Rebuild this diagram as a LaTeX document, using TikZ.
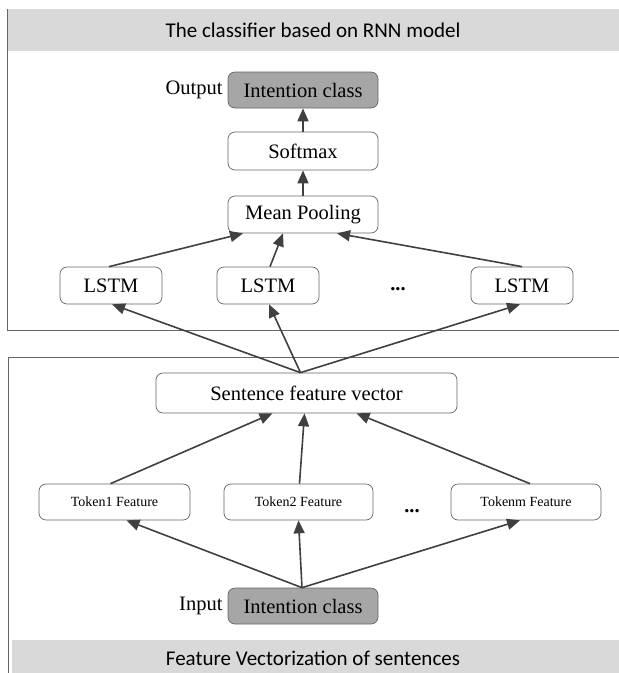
\documentclass[tikz,border=0pt]{standalone}
\usepackage{fontspec}
\setmainfont{Liberation Serif}
\newfontfamily\hdrfont{Carlito}
\usetikzlibrary{arrows.meta}
\definecolor{hdrgray}{HTML}{D9D9D9}
\definecolor{boxgray}{HTML}{A6A6A6}
\definecolor{linegray}{HTML}{404040}
\begin{document}
\begin{tikzpicture}[x=1pt,y=-1pt,
  blk/.style={draw=linegray!80,line width=0.7pt,rounded corners=7pt,fill=white,inner sep=0pt,font=\fontsize{20.5}{22}\selectfont},
  dark/.style={blk,fill=boxgray},
  tok/.style={blk,font=\fontsize{14}{16}\selectfont},
  lbl/.style={font=\fontsize{20.5}{22}\selectfont},
  dots/.style={font=\fontsize{20.5}{22}\selectfont\bfseries},
  arr/.style={draw=linegray,line width=1.6pt,-{Triangle[length=13pt,width=11pt]}},
  frame/.style={draw=black!60,line width=0.6pt},
  hdrtxt/.style={font=\hdrfont\fontsize{21}{23}\selectfont}]
\useasboundingbox (0,0) rectangle (619,673);
% top panel
\fill[hdrgray] (7,9) rectangle (619,51);
\node[hdrtxt] (h1) at (313,30) {The classifier based on RNN model};
\draw[frame] (7,9) -- (7,330) -- (619,330);
% bottom panel
\draw[frame] (619,357) -- (8,357) -- (8,673);
\fill[hdrgray] (12,640) rectangle (619,673);
\node[hdrtxt] (h2) at (313,658) {Feature Vectorization of sentences};
% nodes
\node[dark,minimum width=150pt,minimum height=36pt] (out) at (303,90) {Intention class};
\node[lbl,anchor=east] (outl) at (226,90) {Output};
\node[blk,minimum width=150pt,minimum height=38pt] (soft) at (303,151) {Softmax};
\node[blk,minimum width=150pt,minimum height=37pt] (mean) at (303,214.5) {Mean Pooling};
\node[blk,minimum width=102pt,minimum height=37pt] (l1) at (111,285.5) {LSTM};
\node[blk,minimum width=102pt,minimum height=37pt] (l2) at (268,285.5) {LSTM};
\node[blk,minimum width=102pt,minimum height=37pt] (l3) at (522,285.5) {LSTM};
\node[dots] (d1) at (398,289) {...};
\node[blk,minimum width=301pt,minimum height=40pt] (sfv) at (306.5,393) {Sentence feature vector};
\node[tok,minimum width=151pt,minimum height=36pt] (t1) at (114.5,502) {Token1 Feature};
\node[tok,minimum width=149pt,minimum height=36pt] (t2) at (298.5,502) {Token2 Feature};
\node[tok,minimum width=150pt,minimum height=36pt] (t3) at (526,502) {Tokenm Feature};
\node[dots] (d2) at (412,511) {...};
\node[dark,minimum width=150pt,minimum height=36pt] (in) at (303,606) {Intention class};
\node[lbl,anchor=east] (inl) at (226,606) {Input};
% connectors
\draw[arr] (soft.north) -- (out.south);
\draw[arr] (mean.north) -- (soft.south);
\draw[arr] ([xshift=-2pt]l1.north) -- ([xshift=-60pt]mean.south);
\draw[arr] ([xshift=2pt]l2.north) -- ([xshift=-20pt]mean.south);
\draw[arr] (l3.north) -- ([xshift=34pt]mean.south);
\coordinate (sftop) at ([xshift=-6pt]sfv.north);
\draw[arr] (sftop) -- ([xshift=1pt]l1.south);
\draw[arr] (sftop) -- ([xshift=1pt]l2.south);
\draw[arr] (sftop) -- ([xshift=-2pt]l3.south);
\draw[arr] ([xshift=-4pt]t1.north) -- ([xshift=-34pt]sfv.south);
\draw[arr] ([xshift=1pt]t2.north) -- ([xshift=-2pt]sfv.south);
\draw[arr] ([xshift=4pt]t3.north) -- ([xshift=50pt]sfv.south);
\coordinate (intop) at ([xshift=-1pt]in.north);
\draw[arr] (intop) -- ([xshift=12pt]t1.south);
\draw[arr] (intop) -- ([xshift=0pt]t2.south);
\draw[arr] (intop) -- ([xshift=-6pt]t3.south);
\end{tikzpicture}
\end{document}
